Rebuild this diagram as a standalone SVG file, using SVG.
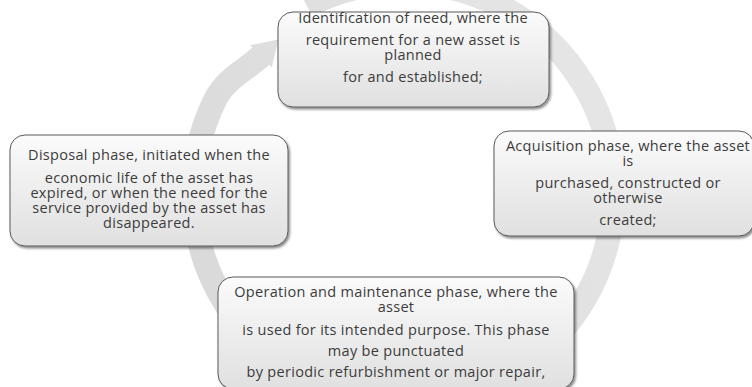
<svg xmlns="http://www.w3.org/2000/svg" width="752" height="387" viewBox="0 0 752 387">
  <defs>
    <linearGradient id="boxFill" x1="0" y1="0" x2="0" y2="1">
      <stop offset="0" stop-color="#fbfbfb"/>
      <stop offset="1" stop-color="#e0e0e0"/>
    </linearGradient>
    <linearGradient id="ringFill" gradientUnits="userSpaceOnUse" x1="190" y1="300" x2="610" y2="60">
      <stop offset="0" stop-color="#d9d9d9"/>
      <stop offset="1" stop-color="#e6e6e6"/>
    </linearGradient>
    <filter id="shadow" x="-10%" y="-10%" width="125%" height="130%">
      <feDropShadow dx="1.5" dy="2" stdDeviation="1.2" flood-color="#000" flood-opacity="0.45"/>
    </filter>
  </defs>
  <style>
    .box { fill: url(#boxFill); stroke: #5a5a5a; stroke-width: 1; filter: url(#shadow); }
    .label { font-family: "Open Sans", "Liberation Sans", sans-serif; font-size: 14.5px; letter-spacing: 0.3px; fill: #3c3c3c; text-anchor: middle; }
    .ring { fill: none; stroke: url(#ringFill); stroke-width: 24; }
    .head { fill: url(#ringFill); }
  </style>

  <rect width="752" height="387" fill="#ffffff"/>

  <!-- circular arrow behind the phases: tail hidden under the top phase, head pointing into it -->
  <g id="connectors">
    <path class="ring" d="M 307 6 A 210 210 0 1 1 215 100 C 226.2 77.7 246.6 69.8 261 56"/>
    <polygon class="head" points="250.2,45.2 271.8,67.4 278.3,39.4"/>
  </g>

  <g id="need">
    <rect class="box" x="278" y="12" width="271" height="95" rx="15"/>
    <text class="label" x="413" y="23">Identification of need, where the</text>
    <text class="label" x="413" y="45">requirement for a new asset is</text>
    <text class="label" x="413" y="60">planned</text>
    <text class="label" x="413" y="82">for and established;</text>
  </g>

  <g id="acquisition">
    <rect class="box" x="494" y="131" width="260" height="105" rx="15"/>
    <text class="label" x="628" y="151">Acquisition phase, where the asset</text>
    <text class="label" x="628" y="166">is</text>
    <text class="label" x="628" y="188">purchased, constructed or</text>
    <text class="label" x="628" y="203">otherwise</text>
    <text class="label" x="628" y="225">created;</text>
  </g>

  <g id="operation">
    <rect class="box" x="218" y="277" width="356" height="112" rx="15"/>
    <text class="label" x="396" y="297">Operation and maintenance phase, where the</text>
    <text class="label" x="396" y="312">asset</text>
    <text class="label" x="396" y="334.5">is used for its intended purpose. This phase</text>
    <text class="label" x="396" y="356">may be punctuated</text>
    <text class="label" x="396" y="377">by periodic refurbishment or major repair,</text>
  </g>

  <g id="disposal">
    <rect class="box" x="10" y="135" width="278" height="111" rx="15"/>
    <text class="label" x="149" y="160">Disposal phase, initiated when the</text>
    <text class="label" x="149" y="182.5">economic life of the asset has</text>
    <text class="label" x="149" y="197.5">expired, or when the need for the</text>
    <text class="label" x="149" y="213">service provided by the asset has</text>
    <text class="label" x="149" y="228">disappeared.</text>
  </g>
</svg>
